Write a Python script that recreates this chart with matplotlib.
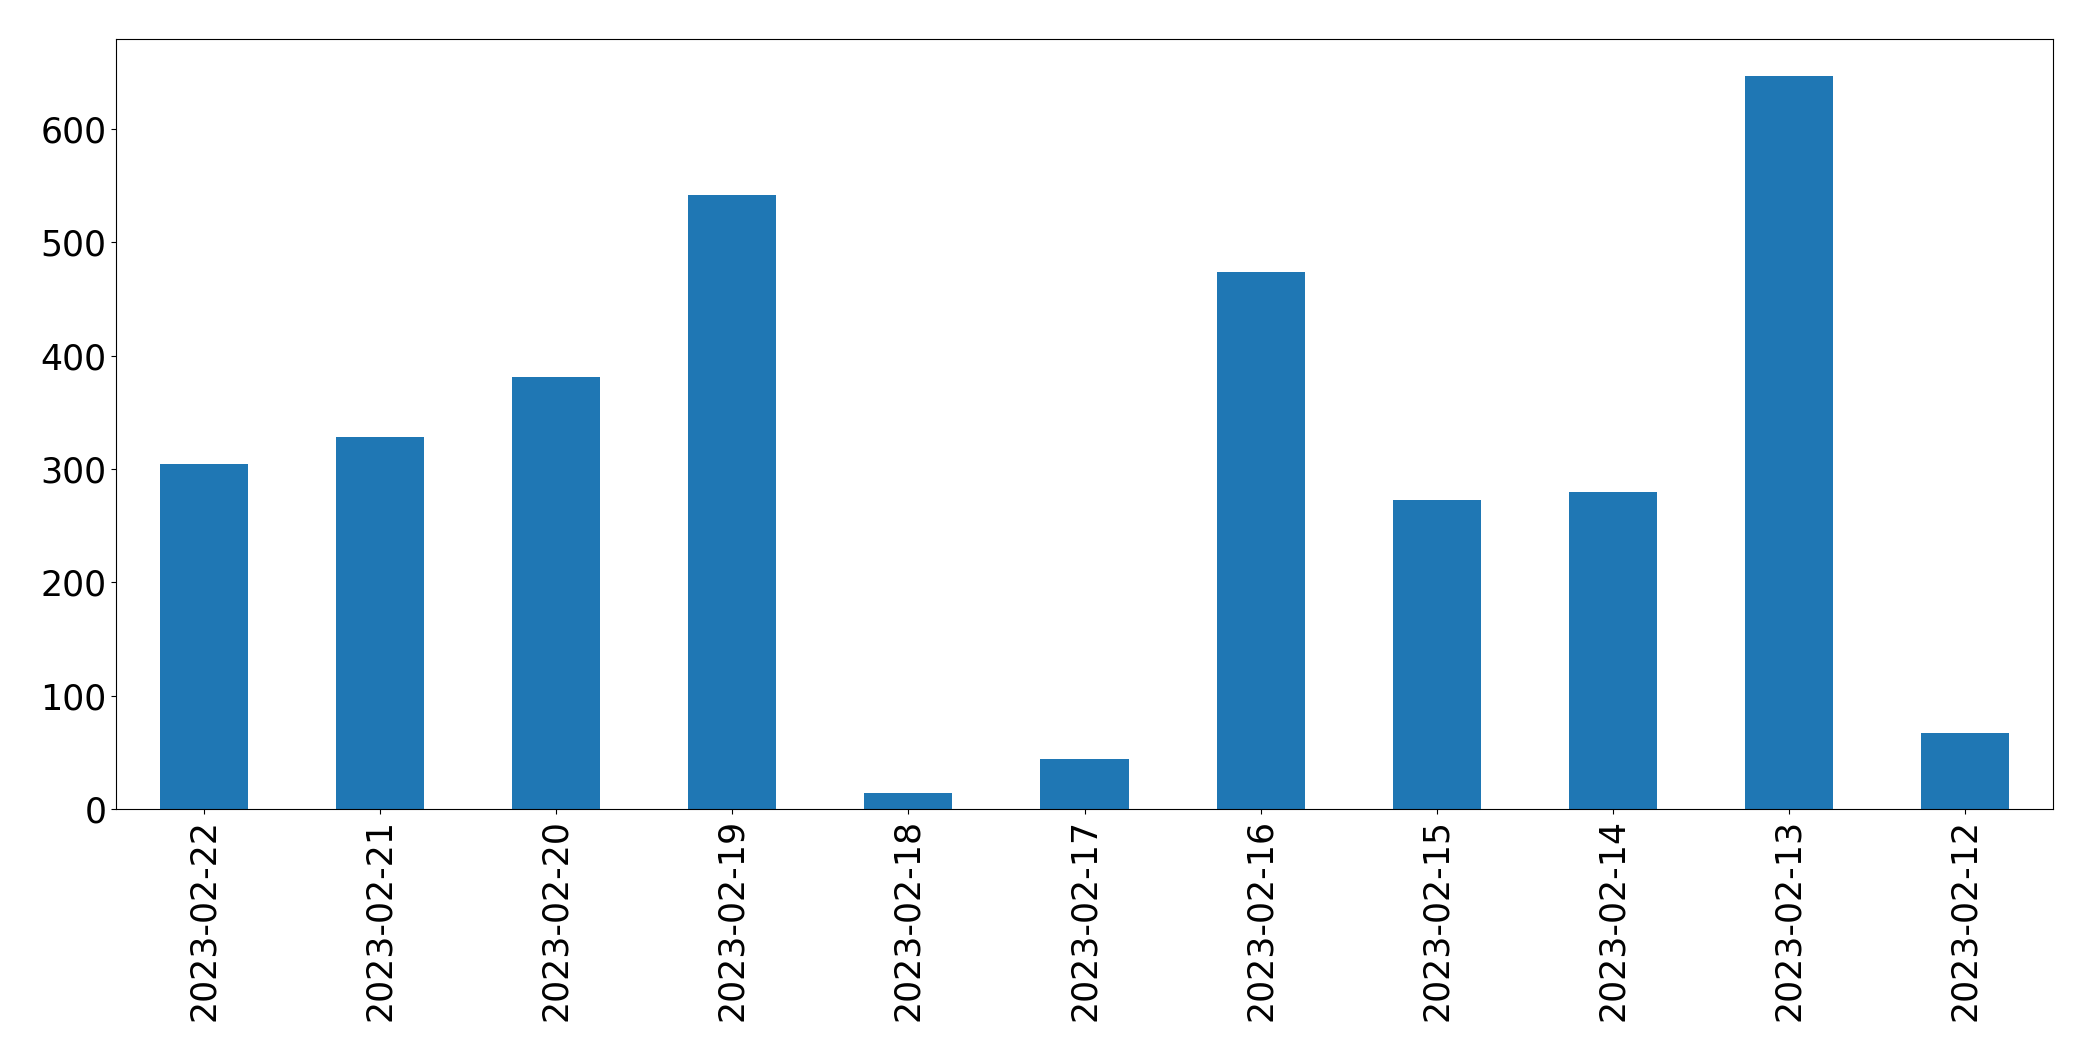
import matplotlib
matplotlib.use("Agg")
import matplotlib.pyplot as plt
import pandas as pd

dates = ["2023-02-22", "2023-02-21", "2023-02-20", "2023-02-19", "2023-02-18",
         "2023-02-17", "2023-02-16", "2023-02-15", "2023-02-14", "2023-02-13",
         "2023-02-12"]
counts = [304, 328, 381, 542, 14, 44, 474, 273, 280, 647, 67]

s = pd.Series(counts, index=dates)

fig, ax = plt.subplots(figsize=(20.93, 10.61), dpi=100)
s.plot(kind="bar", ax=ax, color="#1f77b4", fontsize=25)
ax.tick_params(axis="both", labelsize=25)

fig.subplots_adjust(left=116/2093, right=2053/2093, top=1-39/1061, bottom=1-809/1061)
fig.savefig("out.png", dpi=100)
